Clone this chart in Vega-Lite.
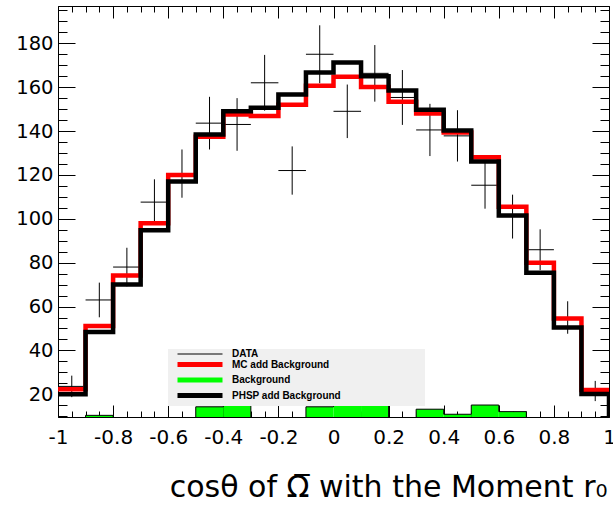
{
  "$schema": "https://vega.github.io/schema/vega-lite/v6.json",
  "autosize": "none",
  "width": 551,
  "height": 411,
  "padding": {"left": 58, "top": 6, "right": 4, "bottom": 93},
  "background": "white",
  "config": {
    "view": {"stroke": "#000000", "strokeWidth": 1},
    "axis": {"grid": false, "domain": false, "tickColor": "#000000", "tickWidth": 1, "labelFont": "DejaVu Sans", "labelColor": "#000000", "zindex": 1}
  },
  "datasets": {
    "bins": [
      {"lo": -1.0, "hi": -0.9, "c": -0.95, "data": 23.6, "dlo": 18.7, "dhi": 28.5, "bg": 0},
      {"lo": -0.9, "hi": -0.8, "c": -0.85, "data": 63.0, "dlo": 55.1, "dhi": 70.9, "bg": 10.4},
      {"lo": -0.8, "hi": -0.7, "c": -0.75, "data": 78.0, "dlo": 69.2, "dhi": 86.8, "bg": 0},
      {"lo": -0.7, "hi": -0.6, "c": -0.65, "data": 107.6, "dlo": 97.2, "dhi": 118.0, "bg": 0},
      {"lo": -0.6, "hi": -0.5, "c": -0.55, "data": 120.6, "dlo": 109.6, "dhi": 131.6, "bg": 0},
      {"lo": -0.5, "hi": -0.4, "c": -0.45, "data": 143.6, "dlo": 131.6, "dhi": 155.6, "bg": 14.3},
      {"lo": -0.4, "hi": -0.3, "c": -0.35, "data": 143.0, "dlo": 131.0, "dhi": 155.0, "bg": 16.5},
      {"lo": -0.3, "hi": -0.2, "c": -0.25, "data": 162.0, "dlo": 149.3, "dhi": 174.7, "bg": 0},
      {"lo": -0.2, "hi": -0.1, "c": -0.15, "data": 122.0, "dlo": 111.0, "dhi": 133.0, "bg": 0},
      {"lo": -0.1, "hi": 0.0, "c": -0.05, "data": 175.0, "dlo": 161.8, "dhi": 188.2, "bg": 14.3},
      {"lo": 0.0, "hi": 0.1, "c": 0.05, "data": 149.0, "dlo": 136.8, "dhi": 161.2, "bg": 16.4},
      {"lo": 0.1, "hi": 0.2, "c": 0.15, "data": 166.3, "dlo": 153.4, "dhi": 179.2, "bg": 16.4},
      {"lo": 0.2, "hi": 0.3, "c": 0.25, "data": 155.3, "dlo": 142.8, "dhi": 167.8, "bg": 0},
      {"lo": 0.3, "hi": 0.4, "c": 0.35, "data": 140.5, "dlo": 128.6, "dhi": 152.4, "bg": 13.2},
      {"lo": 0.4, "hi": 0.5, "c": 0.45, "data": 137.8, "dlo": 126.1, "dhi": 149.5, "bg": 10.9},
      {"lo": 0.5, "hi": 0.6, "c": 0.55, "data": 115.3, "dlo": 104.6, "dhi": 126.0, "bg": 15.1},
      {"lo": 0.6, "hi": 0.7, "c": 0.65, "data": 101.0, "dlo": 91.0, "dhi": 111.0, "bg": 12.1},
      {"lo": 0.7, "hi": 0.8, "c": 0.75, "data": 85.9, "dlo": 76.6, "dhi": 95.2, "bg": 0},
      {"lo": 0.8, "hi": 0.9, "c": 0.85, "data": 55.0, "dlo": 47.6, "dhi": 62.4, "bg": 0},
      {"lo": 0.9, "hi": 1.0, "c": 0.95, "data": 21.5, "dlo": 16.9, "dhi": 26.1, "bg": 0}
    ],
    "steps": [
      {"series": "MC add Background", "ord": 0, "x": -1.0, "v": 22.3},
      {"series": "MC add Background", "ord": 1, "x": -0.9, "v": 51.1},
      {"series": "MC add Background", "ord": 2, "x": -0.8, "v": 74.2},
      {"series": "MC add Background", "ord": 3, "x": -0.7, "v": 98.0},
      {"series": "MC add Background", "ord": 4, "x": -0.6, "v": 120.0},
      {"series": "MC add Background", "ord": 5, "x": -0.5, "v": 137.4},
      {"series": "MC add Background", "ord": 6, "x": -0.4, "v": 147.5},
      {"series": "MC add Background", "ord": 7, "x": -0.3, "v": 146.9},
      {"series": "MC add Background", "ord": 8, "x": -0.2, "v": 152.0},
      {"series": "MC add Background", "ord": 9, "x": -0.1, "v": 160.7},
      {"series": "MC add Background", "ord": 10, "x": 0.0, "v": 164.8},
      {"series": "MC add Background", "ord": 11, "x": 0.1, "v": 160.1},
      {"series": "MC add Background", "ord": 12, "x": 0.2, "v": 153.3},
      {"series": "MC add Background", "ord": 13, "x": 0.3, "v": 148.0},
      {"series": "MC add Background", "ord": 14, "x": 0.4, "v": 139.3},
      {"series": "MC add Background", "ord": 15, "x": 0.5, "v": 128.1},
      {"series": "MC add Background", "ord": 16, "x": 0.6, "v": 105.5},
      {"series": "MC add Background", "ord": 17, "x": 0.7, "v": 80.0},
      {"series": "MC add Background", "ord": 18, "x": 0.8, "v": 54.6},
      {"series": "MC add Background", "ord": 19, "x": 0.9, "v": 22.0},
      {"series": "MC add Background", "ord": 20, "x": 1.0, "v": 22.0},
      {"series": "PHSP add Background", "ord": 0, "x": -1.0, "v": 20.0},
      {"series": "PHSP add Background", "ord": 1, "x": -0.9, "v": 48.4},
      {"series": "PHSP add Background", "ord": 2, "x": -0.8, "v": 70.0},
      {"series": "PHSP add Background", "ord": 3, "x": -0.7, "v": 94.8},
      {"series": "PHSP add Background", "ord": 4, "x": -0.6, "v": 117.0},
      {"series": "PHSP add Background", "ord": 5, "x": -0.5, "v": 138.4},
      {"series": "PHSP add Background", "ord": 6, "x": -0.4, "v": 149.0},
      {"series": "PHSP add Background", "ord": 7, "x": -0.3, "v": 150.6},
      {"series": "PHSP add Background", "ord": 8, "x": -0.2, "v": 156.7},
      {"series": "PHSP add Background", "ord": 9, "x": -0.1, "v": 166.7},
      {"series": "PHSP add Background", "ord": 10, "x": 0.0, "v": 171.2},
      {"series": "PHSP add Background", "ord": 11, "x": 0.1, "v": 165.0},
      {"series": "PHSP add Background", "ord": 12, "x": 0.2, "v": 158.5},
      {"series": "PHSP add Background", "ord": 13, "x": 0.3, "v": 149.7},
      {"series": "PHSP add Background", "ord": 14, "x": 0.4, "v": 140.2},
      {"series": "PHSP add Background", "ord": 15, "x": 0.5, "v": 126.1},
      {"series": "PHSP add Background", "ord": 16, "x": 0.6, "v": 101.5},
      {"series": "PHSP add Background", "ord": 17, "x": 0.7, "v": 75.4},
      {"series": "PHSP add Background", "ord": 18, "x": 0.8, "v": 50.4},
      {"series": "PHSP add Background", "ord": 19, "x": 0.9, "v": 20.1},
      {"series": "PHSP add Background", "ord": 20, "x": 1.0, "v": 20.1},
      {"series": "PHSP add Background", "ord": 21, "x": 1.0, "v": 0},
      {"series": "bgline", "ord": 0, "x": -1.0, "v": 0},
      {"series": "bgline", "ord": 1, "x": -0.9, "v": 10.4},
      {"series": "bgline", "ord": 2, "x": -0.8, "v": 0},
      {"series": "bgline", "ord": 3, "x": -0.7, "v": 0},
      {"series": "bgline", "ord": 4, "x": -0.6, "v": 0},
      {"series": "bgline", "ord": 5, "x": -0.5, "v": 14.3},
      {"series": "bgline", "ord": 6, "x": -0.4, "v": 16.5},
      {"series": "bgline", "ord": 7, "x": -0.3, "v": 0},
      {"series": "bgline", "ord": 8, "x": -0.2, "v": 0},
      {"series": "bgline", "ord": 9, "x": -0.1, "v": 14.3},
      {"series": "bgline", "ord": 10, "x": 0.0, "v": 16.4},
      {"series": "bgline", "ord": 11, "x": 0.1, "v": 16.4},
      {"series": "bgline", "ord": 12, "x": 0.2, "v": 0},
      {"series": "bgline", "ord": 13, "x": 0.3, "v": 13.2},
      {"series": "bgline", "ord": 14, "x": 0.4, "v": 10.9},
      {"series": "bgline", "ord": 15, "x": 0.5, "v": 15.1},
      {"series": "bgline", "ord": 16, "x": 0.6, "v": 12.1},
      {"series": "bgline", "ord": 17, "x": 0.7, "v": 0},
      {"series": "bgline", "ord": 18, "x": 0.8, "v": 0},
      {"series": "bgline", "ord": 19, "x": 0.9, "v": 0},
      {"series": "bgline", "ord": 20, "x": 1.0, "v": 0}
    ]
  },
  "resolve": {"axis": {"x": "independent", "y": "independent"}},
  "layer": [
    {
      "data": {"name": "bins"},
      "mark": {"type": "rect", "clip": true},
      "encoding": {
        "x": {"field": "lo", "type": "quantitative",
          "scale": {"domain": [-1, 1], "nice": false, "zero": false},
          "axis": {"orient": "bottom", "values": [-1, -0.8, -0.6, -0.4, -0.2, 0, 0.2, 0.4, 0.6, 0.8, 1],
            "labelExpr": "'' + datum.value", "tickSize": -12, "labelPadding": 22, "labelFontSize": 20,
            "labelFlush": false, "labelOverlap": false,
            "title": "cosθ of Ω̅ with the Moment r₀", "titleFont": "DejaVu Sans", "titleFontSize": 30,
            "titleFontWeight": "normal", "titleColor": "#000000", "titleX": 549, "titleY": 79,
            "titleAlign": "right", "titleBaseline": "alphabetic", "titleAngle": 0}},
        "x2": {"field": "hi"},
        "y": {"field": "bg", "type": "quantitative",
          "scale": {"domain": [9.65, 197], "nice": false, "zero": false},
          "axis": {"orient": "left", "values": [20, 40, 60, 80, 100, 120, 140, 160, 180],
            "labelExpr": "'' + datum.value", "tickSize": -17, "labelPadding": 22, "labelFontSize": 19.5,
            "labelFlush": false, "labelOverlap": false, "title": null}},
        "y2": {"datum": 0},
        "color": {"datum": "Background", "type": "nominal",
          "scale": {"domain": ["DATA", "MC add Background", "Background", "PHSP add Background"], "range": ["#000000", "#ff0000", "#00ff00", "#000000"]},
          "legend": {
            "orient": "none", "legendX": 110, "legendY": 343, "title": null,
            "fillColor": "#f0f0f0", "padding": 0,
            "symbolType": "stroke", "symbolSize": 2025, "symbolStrokeWidth": 4,
            "symbolOffset": 27,
            "labelFont": "Liberation Sans", "labelFontSize": 10, "labelFontWeight": "bold", "labelColor": "#000000",
            "labelOffset": 27, "labelLimit": 400, "rowPadding": -4.5,
            "labelExpr": "datum.label + '⠀⠀⠀⠀⠀⠀⠀⠀⠀⠀⠀⠀'",
            "encode": {"symbols": {"update": {
              "shape": {"value": "stroke"},
              "fill": {"value": "transparent"},
              "stroke": {"signal": "datum.value === 'MC add Background' ? '#ff0000' : datum.value === 'Background' ? '#00ff00' : '#000000'"},
              "strokeWidth": {"signal": "datum.value === 'DATA' ? 1 : 5"},
              "opacity": {"value": 1}
            }}}
          }}
      }
    },
    {
      "data": {"name": "steps"},
      "transform": [{"filter": "datum.series === 'bgline'"}],
      "mark": {"type": "line", "interpolate": "step-after", "clip": true, "stroke": "#000000", "strokeWidth": 1},
      "encoding": {
        "x": {"field": "x", "type": "quantitative",
          "scale": {"domain": [-1, 1], "nice": false, "zero": false},
          "axis": {"orient": "bottom", "values": [-1, -0.95, -0.9, -0.85, -0.8, -0.75, -0.7, -0.65, -0.6, -0.55, -0.5, -0.45, -0.4, -0.35, -0.3, -0.25, -0.2, -0.15, -0.1, -0.05, 0, 0.05, 0.1, 0.15, 0.2, 0.25, 0.3, 0.35, 0.4, 0.45, 0.5, 0.55, 0.6, 0.65, 0.7, 0.75, 0.8, 0.85, 0.9, 0.95, 1],
            "tickSize": -6, "labels": false, "title": null}},
        "y": {"field": "v", "type": "quantitative",
          "scale": {"domain": [9.65, 197], "nice": false, "zero": false},
          "axis": {"orient": "left", "values": [10, 15, 20, 25, 30, 35, 40, 45, 50, 55, 60, 65, 70, 75, 80, 85, 90, 95, 100, 105, 110, 115, 120, 125, 130, 135, 140, 145, 150, 155, 160, 165, 170, 175, 180, 185, 190, 195],
            "tickSize": -9, "labels": false, "title": null}},
        "order": {"field": "ord", "type": "quantitative"}
      }
    },
    {
      "data": {"name": "bins"},
      "mark": {"type": "rule", "clip": true, "strokeWidth": 1},
      "encoding": {
        "x": {"field": "c", "type": "quantitative", "scale": {"domain": [-1, 1], "nice": false, "zero": false}, "axis": null},
        "y": {"field": "dlo", "type": "quantitative", "scale": {"domain": [9.65, 197], "nice": false, "zero": false}, "axis": null},
        "y2": {"field": "dhi"},
        "color": {"datum": "DATA", "type": "nominal", "legend": null}
      }
    },
    {
      "data": {"name": "bins"},
      "mark": {"type": "rule", "clip": true, "strokeWidth": 1},
      "encoding": {
        "x": {"field": "lo", "type": "quantitative", "scale": {"domain": [-1, 1], "nice": false, "zero": false}, "axis": null},
        "x2": {"field": "hi"},
        "y": {"field": "data", "type": "quantitative", "scale": {"domain": [9.65, 197], "nice": false, "zero": false}, "axis": null},
        "color": {"datum": "DATA", "type": "nominal", "legend": null}
      }
    },
    {
      "data": {"name": "steps"},
      "transform": [{"filter": "datum.series === 'MC add Background'"}],
      "mark": {"type": "line", "interpolate": "step-after", "clip": true, "strokeWidth": 4.5},
      "encoding": {
        "x": {"field": "x", "type": "quantitative",
          "scale": {"domain": [-1, 1], "nice": false, "zero": false},
          "axis": {"orient": "top", "values": [-1, -0.8, -0.6, -0.4, -0.2, 0, 0.2, 0.4, 0.6, 0.8, 1], "tickSize": -12, "labels": false, "title": null}},
        "y": {"field": "v", "type": "quantitative",
          "scale": {"domain": [9.65, 197], "nice": false, "zero": false},
          "axis": {"orient": "right", "values": [20, 40, 60, 80, 100, 120, 140, 160, 180], "tickSize": -17, "labels": false, "title": null}},
        "order": {"field": "ord", "type": "quantitative"},
        "color": {"field": "series", "type": "nominal", "legend": null}
      }
    },
    {
      "data": {"name": "steps"},
      "transform": [{"filter": "datum.series === 'PHSP add Background'"}],
      "mark": {"type": "line", "interpolate": "step-after", "clip": true, "strokeWidth": 4.5},
      "encoding": {
        "x": {"field": "x", "type": "quantitative",
          "scale": {"domain": [-1, 1], "nice": false, "zero": false},
          "axis": {"orient": "top", "values": [-1, -0.95, -0.9, -0.85, -0.8, -0.75, -0.7, -0.65, -0.6, -0.55, -0.5, -0.45, -0.4, -0.35, -0.3, -0.25, -0.2, -0.15, -0.1, -0.05, 0, 0.05, 0.1, 0.15, 0.2, 0.25, 0.3, 0.35, 0.4, 0.45, 0.5, 0.55, 0.6, 0.65, 0.7, 0.75, 0.8, 0.85, 0.9, 0.95, 1],
            "tickSize": -6, "labels": false, "title": null}},
        "y": {"field": "v", "type": "quantitative",
          "scale": {"domain": [9.65, 197], "nice": false, "zero": false},
          "axis": {"orient": "right", "values": [10, 15, 20, 25, 30, 35, 40, 45, 50, 55, 60, 65, 70, 75, 80, 85, 90, 95, 100, 105, 110, 115, 120, 125, 130, 135, 140, 145, 150, 155, 160, 165, 170, 175, 180, 185, 190, 195],
            "tickSize": -9, "labels": false, "title": null}},
        "order": {"field": "ord", "type": "quantitative"},
        "color": {"field": "series", "type": "nominal", "legend": null}
      }
    }
  ]
}
